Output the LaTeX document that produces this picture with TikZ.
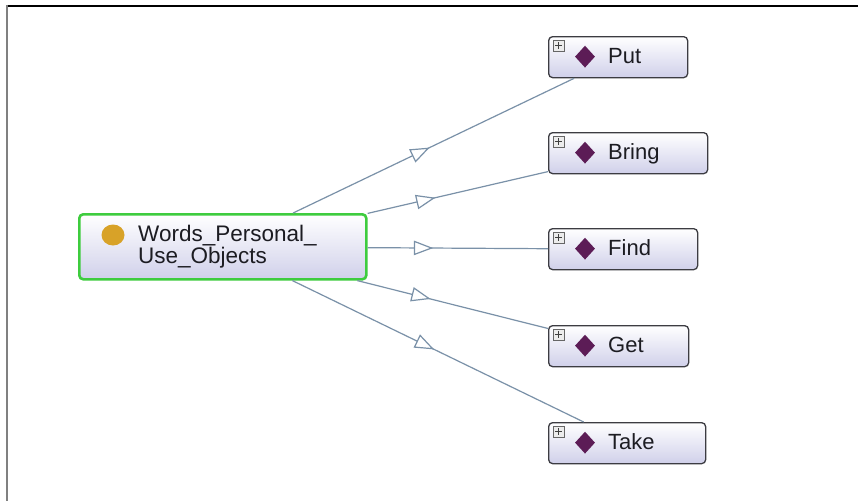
\documentclass[tikz,border=0pt]{standalone}
\usepackage{fontspec}
\setmainfont{Liberation Sans}
\usetikzlibrary{shapes.geometric,decorations.markings,calc}
\definecolor{edgecol}{RGB}{122,145,168}
\definecolor{boxbot}{RGB}{208,208,234}
\definecolor{boxline}{RGB}{60,60,66}
\definecolor{selgreen}{RGB}{62,204,62}
\definecolor{indiv}{RGB}{92,28,86}
\definecolor{classdot}{RGB}{216,162,40}
\definecolor{txt}{RGB}{28,28,34}
\tikzset{
  childbox/.style={draw=boxline, line width=1.3pt, rounded corners=4pt, top color=white, bottom color=boxbot, minimum width=#1, minimum height=41pt, inner sep=0pt, anchor=north west},
  mainbox/.style={draw=selgreen, line width=2.6pt, rounded corners=4pt, top color=white, bottom color=boxbot, minimum width=287pt, minimum height=65pt, inner sep=0pt, anchor=north west},
  childtext/.style={anchor=base west, inner sep=0pt, text=txt, font=\fontsize{22}{24}\selectfont},
  indivmark/.style={shape=diamond, fill=indiv, minimum width=20pt, minimum height=22pt, inner sep=0pt},
  plusbox/.style={draw=gray!80!black, fill=gray!15, line width=0.6pt, minimum size=11pt, inner sep=0pt, anchor=north west},
  edge/.style={draw=edgecol, line width=1.2pt},
  midtri/.style={decorate, decoration={markings, mark=at position 0.5 with {\draw[edgecol, line width=1.2pt, fill=white, line join=miter] (-8.5pt,-6.5pt) -- (8.5pt,0pt) -- (-8.5pt,6.5pt) -- cycle;}}},
}
\newcommand{\childnode}[5]{%
  % #1 name, #2 x, #3 y, #4 width, #5 label
  \node[childbox=#4] (#1) at (#2,#3) {};
  \node[plusbox] (#1plus) at ([xshift=4.5pt,yshift=-3.5pt]#1.north west) {};
  \draw[black!75, line width=0.8pt] ([xshift=-3.5pt]#1plus.center) -- ([xshift=3.5pt]#1plus.center)
        ([yshift=-3.5pt]#1plus.center) -- ([yshift=3.5pt]#1plus.center);
  \node[indivmark] (#1mark) at ([xshift=37pt,yshift=0.5pt]#1.west) {};
  \node[childtext] (#1text) at ([xshift=60pt,yshift=-27pt]#1.north west) {#5};
}
\begin{document}
\begin{tikzpicture}[x=1pt,y=-1pt]
\useasboundingbox (0,0) rectangle (858,501);
\fill[white] (0,0) rectangle (858,501);
\draw[black, line width=1.3pt] (6,6) -- (858,6);
\draw[gray, line width=2pt] (7,5.4) -- (7,501);

\node[mainbox] (main) at (78,213) {};
\node[ellipse, fill=classdot, minimum width=23pt, minimum height=21pt, inner sep=0pt] (maindot) at (113,235) {};
\node[anchor=base west, inner sep=0pt, align=left, text=txt, font=\fontsize{22.5}{20.5}\selectfont] (maintext) at (138,263.5) {Words\_Personal\_\\Use\_Objects};

\childnode{put}{548}{36}{139pt}{Put}
\childnode{bring}{548}{132}{159pt}{Bring}
\childnode{find}{548}{228}{149pt}{Find}
\childnode{get}{548}{325}{140pt}{Get}
\childnode{take}{548}{422}{157pt}{Take}

\foreach \c in {put,bring,find,get,take}{
  \draw[edge] (main) -- (\c);
  \path[midtri] (main.center) -- (\c.center);
}
\end{tikzpicture}
\end{document}
